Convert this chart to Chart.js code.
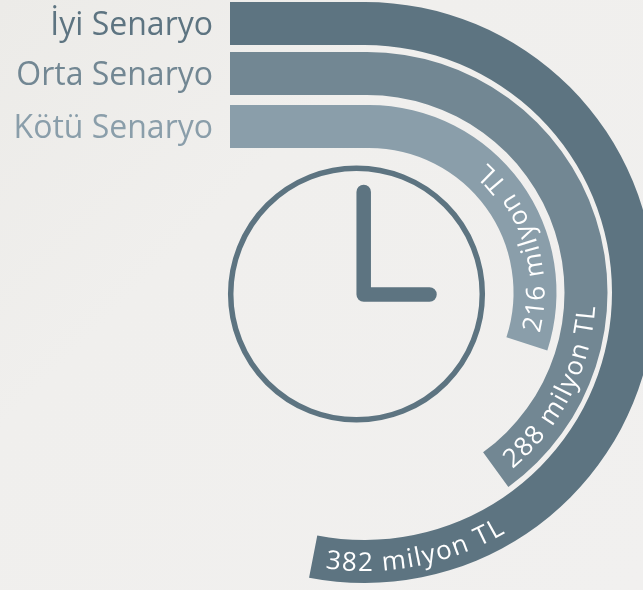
<!DOCTYPE html>
<html><head><meta charset="utf-8">
<style>
html,body{margin:0;padding:0;width:643px;height:590px;overflow:hidden;background:linear-gradient(135deg,#ecebe8 0%,#f0efed 35%,#f1f0ef 100%);}
#wrap{position:absolute;left:0;top:0;width:643px;height:590px;overflow:hidden;}
canvas{position:absolute;left:0;top:0;}
</style>
<script src="https://cdn.jsdelivr.net/npm/chart.js@4"></script>
</head><body><div id="wrap"></div>
<script>
const scenarios = ['İyi Senaryo','Orta Senaryo','Kötü Senaryo'];
const values = [382,288,216];
const valueLabels = ['382 milyon TL','288 milyon TL','216 milyon TL'];
const colors = ['#5d7481','#728793','#8a9eaa'];
const fullTurn = 720;
const ringCentreX = [364.5,367,369];
const ringOuter = [290.5,240.5,187.5];
const ringInner = [247.5,197.5,144.5];

const font = 'Open Sans';
const labelSpacing = 1.6;

function bandPlugin(i){
  return {
    id:'band'+i,
    afterDatasetsDraw(chart){
      const ctx = chart.ctx;
      const arc = chart.getDatasetMeta(0).data[0];
      const cx = arc.x, cy = arc.y;
      const top = cy-arc.outerRadius, h = arc.outerRadius-arc.innerRadius;
      ctx.save();
      ctx.fillStyle = colors[i];
      ctx.fillRect(230,top,cx-230+0.5,h);
      ctx.font = '400 32px "'+font+'"';
      ctx.textAlign='right'; ctx.textBaseline='middle';
      ctx.fillText(scenarios[i],213,top+h/2+2);
      ctx.font = '400 26px "'+font+'"';
      ctx.fillStyle='#ffffff';
      ctx.textAlign='left'; ctx.textBaseline='alphabetic';
      const baseR = (arc.outerRadius+arc.innerRadius)/2+9.5;
      let a = arc.endAngle - 14/baseR;
      for(const ch of valueLabels[i]){
        const w = ctx.measureText(ch).width;
        const mid = a - (w/2)/baseR;
        ctx.save();
        ctx.translate(cx+baseR*Math.cos(mid),cy+baseR*Math.sin(mid));
        ctx.rotate(mid-Math.PI/2);
        ctx.fillText(ch,-w/2,0);
        ctx.restore();
        a -= (w+labelSpacing)/baseR;
      }
      if(i===values.length-1){
        ctx.strokeStyle=colors[0];
        ctx.lineWidth=5.5;
        ctx.beginPath();ctx.arc(356.5,294,125.8,0,Math.PI*2);ctx.stroke();
        ctx.lineWidth=14.5;ctx.lineCap='round';ctx.lineJoin='round';
        ctx.beginPath();ctx.moveTo(363.7,192);ctx.lineTo(363.7,294.5);ctx.lineTo(429.5,294.5);ctx.stroke();
      }
      ctx.restore();
    }
  };
}

values.forEach((v,i)=>{
  const cv = document.createElement('canvas');
  cv.width = Math.round(ringCentreX[i]*2);
  cv.height = 585;
  document.getElementById('wrap').appendChild(cv);
  new Chart(cv,{
    type:'doughnut',
    data:{labels:['değer','kalan'],datasets:[{label:scenarios[i],data:[v,fullTurn-v],backgroundColor:[colors[i],'rgba(0,0,0,0)'],borderWidth:0}]},
    options:{
      responsive:false,animation:false,
      radius:ringOuter[i],
      cutout:(ringInner[i]/ringOuter[i]*100)+'%',
      plugins:{legend:{display:false},tooltip:{enabled:false}},
      events:[]
    },
    plugins:[bandPlugin(i)]
  });
});
</script></body></html>
